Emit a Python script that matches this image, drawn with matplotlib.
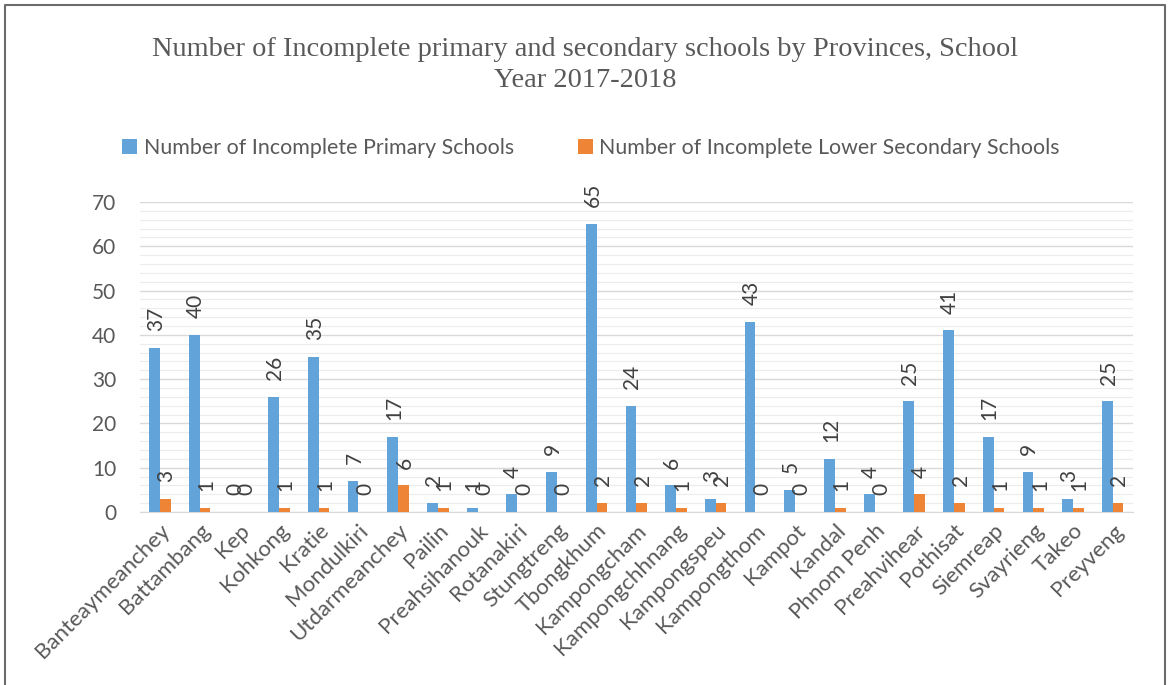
import numpy as np
import matplotlib.pyplot as plt
from matplotlib.lines import Line2D

provinces = ["Banteaymeanchey", "Battambang", "Kep", "Kohkong", "Kratie", "Mondulkiri",
             "Utdarmeanchey", "Pailin", "Preahsihanouk", "Rotanakiri", "Stungtreng",
             "Tbongkhum", "Kampongcham", "Kampongchhnang", "Kampongspeu", "Kampongthom",
             "Kampot", "Kandal", "Phnom Penh", "Preahvihear", "Pothisat", "Siemreap",
             "Svayrieng", "Takeo", "Preyveng"]
primary = [37, 40, 0, 26, 35, 7, 17, 2, 1, 4, 9, 65, 24, 6, 3, 43, 5, 12, 4, 25, 41, 17, 9, 3, 25]
lower_secondary = [3, 1, 0, 1, 1, 0, 6, 1, 0, 0, 0, 2, 2, 1, 2, 0, 0, 1, 0, 4, 2, 1, 1, 1, 2]

BLUE = "#62A3D9"
ORANGE = "#EE8436"
GREY = "#595959"
SANS = "Lato"

fig = plt.figure(figsize=(11.7, 6.85), dpi=100)
ax = fig.add_axes([0.1197, 0.2526, 0.8483, 0.4525])

x = np.arange(len(provinces))
w = 0.27
b1 = ax.bar(x - w / 2, primary, w, color=BLUE, label="Number of Incomplete Primary Schools", zorder=3)
b2 = ax.bar(x + w / 2, lower_secondary, w, color=ORANGE,
            label="Number of Incomplete Lower Secondary Schools", zorder=3)

# rotated value labels above every bar
for bars, vals in ((b1, primary), (b2, lower_secondary)):
    for rect, v in zip(bars, vals):
        ax.annotate(str(v), (rect.get_x() + rect.get_width() / 2, v),
                    xytext=(1, 12), textcoords="offset points", rotation=90,
                    ha="center", va="bottom", fontsize=15, family=SANS, color="#404040")

ax.set_ylim(0, 70)
ax.set_xlim(-0.5, len(provinces) - 0.5)
ax.set_yticks(np.arange(0, 71, 10))
ax.set_yticks(np.arange(0, 71, 2), minor=True)
ax.grid(axis="y", which="major", color="#d9d9d9", lw=1.0, zorder=0)
ax.grid(axis="y", which="minor", color="#ececec", lw=0.8, zorder=0)
ax.tick_params(axis="y", which="both", length=0, pad=17, labelsize=15, labelcolor=GREY)
ax.tick_params(axis="x", length=0, pad=6, labelsize=16, labelcolor=GREY)
for lab in ax.get_yticklabels():
    lab.set_family(SANS)
ax.set_xticks(x)
ax.set_xticklabels(provinces, rotation=45, ha="right", rotation_mode="anchor", family=SANS)
for s in ("left", "right", "top"):
    ax.spines[s].set_visible(False)
ax.spines["bottom"].set_color("#d9d9d9")

fig.text(0.5, 0.905, "Number of Incomplete primary and secondary schools by Provinces, School\nYear 2017-2018",
         ha="center", va="center", fontsize=20.4, family="Liberation Serif", color=GREY, linespacing=1.3)

fig.legend(handles=[b1, b2], loc="center", bbox_to_anchor=(591 / 1170, 0.784), ncol=2,
           frameon=False, prop={"family": SANS, "size": 15.4}, labelcolor=GREY,
           handlelength=0.7, handleheight=0.7, handletextpad=0.3, columnspacing=3.0)

# frame drawn around the chart area (open at the bottom)
fx = [5 / 1170, 5 / 1170, 1165 / 1170, 1165 / 1170]
fy = [0.0, 1 - 5 / 685, 1 - 5 / 685, 0.0]
fig.add_artist(Line2D(fx, fy, transform=fig.transFigure, color="#6b6b6b", lw=1.5))

fig.savefig("out.png", dpi=100, facecolor="white")
